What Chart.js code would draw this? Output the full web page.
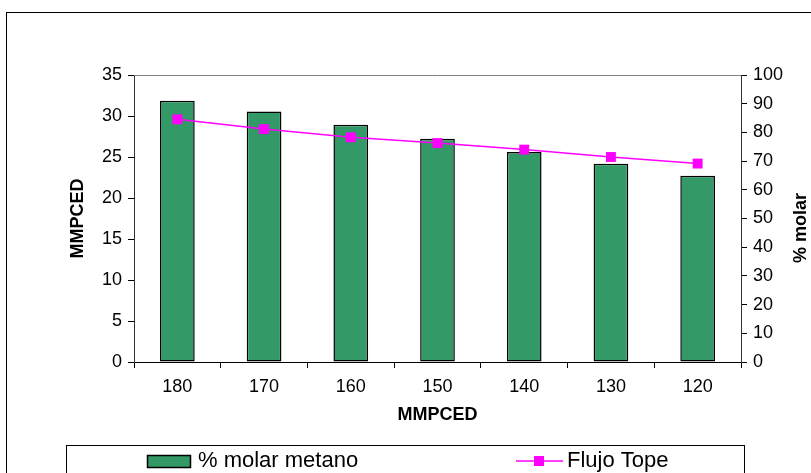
<!DOCTYPE html>
<html lang="es">
<head>
  <meta charset="UTF-8">
  <title>Flujo Tope y % molar metano</title>
  <style>
    body { margin: 0; background: #fff; }
    canvas { display: block; }
  </style>
  <script src="https://cdn.jsdelivr.net/npm/chart.js"></script>
</head>
<body>
  <canvas id="grafico" width="811" height="473"></canvas>

  <script>
    // datos
    var categorias = ['180', '170', '160', '150', '140', '130', '120'];
    var molarMetano = [91.0, 87.3, 82.7, 77.8, 73.2, 69.1, 64.9];   // eje derecha (% molar)
    var flujoTope = [29.6, 28.4, 27.4, 26.7, 25.9, 25.0, 24.2];     // eje izquierda (MMPCED)
    var ejeIzq = { min: 0, max: 35, paso: 5 };
    var ejeDer = { min: 0, max: 100, paso: 10 };
    var tituloX = 'MMPCED';
    var tituloIzq = 'MMPCED';
    var tituloDer = '% molar';

    var fuente = '"Liberation Sans", Arial, sans-serif';
    var verde = '#339966';
    var magenta = '#FF00FF';

    // marco, titulos de ejes y leyenda
    var extras = {
      id: 'extras',
      afterDraw: function (chart) {
        var ctx = chart.ctx;
        var area = chart.chartArea;
        ctx.save();

        // marco exterior
        ctx.strokeStyle = '#000';
        ctx.lineWidth = 1;
        ctx.strokeRect(6.5, 12.5, 820, 480);

        // borde superior del area de trazado
        ctx.strokeStyle = '#808080';
        ctx.beginPath();
        ctx.moveTo(area.left, area.top + 0.5);
        ctx.lineTo(area.right, area.top + 0.5);
        ctx.stroke();

        // titulos de ejes
        ctx.fillStyle = '#000';
        ctx.font = 'bold 18px ' + fuente;
        ctx.textAlign = 'center';
        ctx.textBaseline = 'middle';
        ctx.fillText(tituloX, (area.left + area.right) / 2, 415);

        ctx.save();
        ctx.translate(78, (area.top + area.bottom) / 2);
        ctx.rotate(-Math.PI / 2);
        ctx.fillText(tituloIzq, 0, 0);
        ctx.restore();

        ctx.save();
        ctx.translate(801, 228);
        ctx.rotate(-Math.PI / 2);
        ctx.fillText(tituloDer, 0, 0);
        ctx.restore();

        // leyenda
        ctx.strokeStyle = '#000';
        ctx.strokeRect(66.5, 445.5, 678, 60);
        var dsBarra = chart.data.datasets[1];
        var dsLinea = chart.data.datasets[0];
        var yl = 461;

        ctx.fillStyle = dsBarra.backgroundColor;
        ctx.fillRect(147, 455, 44, 13);
        ctx.lineWidth = 1.5;
        ctx.strokeRect(147.5, 455.5, 43, 12);

        ctx.strokeStyle = dsLinea.borderColor;
        ctx.beginPath();
        ctx.moveTo(516, yl);
        ctx.lineTo(563, yl);
        ctx.stroke();
        ctx.fillStyle = dsLinea.borderColor;
        ctx.fillRect(534, yl - 5, 10, 10);

        ctx.fillStyle = '#000';
        ctx.font = '22px ' + fuente;
        ctx.textAlign = 'left';
        ctx.fillText(dsBarra.label, 198, yl);
        ctx.fillText(dsLinea.label, 567, yl);

        ctx.restore();
      }
    };

    var ctx = document.getElementById('grafico').getContext('2d');
    var grafico = new Chart(ctx, {
      data: {
        labels: categorias,
        datasets: [{
          type: 'line',
          label: 'Flujo Tope',
          data: flujoTope,
          yAxisID: 'y',
          borderColor: magenta,
          borderWidth: 1.5,
          pointStyle: 'rect',
          pointRadius: 7,
          pointBackgroundColor: magenta,
          pointBorderColor: magenta,
          pointBorderWidth: 0,
          tension: 0,
          order: 0
        }, {
          type: 'bar',
          label: '% molar metano',
          data: molarMetano,
          yAxisID: 'y1',
          backgroundColor: verde,
          borderColor: '#000',
          borderWidth: 1.5,
          borderSkipped: false,
          barPercentage: 0.4,
          categoryPercentage: 1,
          order: 1
        }]
      },
      options: {
        responsive: false,
        animation: false,
        layout: { padding: { top: 75, left: 0, right: 0, bottom: 0 } },
        plugins: {
          legend: { display: false },
          tooltip: { enabled: false }
        },
        scales: {
          x: {
            offset: true,
            grid: { offset: true, drawOnChartArea: false, tickLength: 6, tickColor: '#000' },
            border: { color: '#000', width: 1 },
            ticks: { color: '#000', font: { family: fuente, size: 18 }, padding: 8, maxRotation: 0 },
            afterFit: function (s) { s.height = 111; }
          },
          y: {
            position: 'left',
            min: ejeIzq.min,
            max: ejeIzq.max,
            ticks: { stepSize: ejeIzq.paso, color: '#000', font: { family: fuente, size: 18 }, padding: 6 },
            grid: { drawOnChartArea: false, tickLength: 6, tickColor: '#000' },
            border: { color: '#333', width: 1 },
            afterFit: function (s) { s.width = 134; }
          },
          y1: {
            position: 'right',
            min: ejeDer.min,
            max: ejeDer.max,
            ticks: { stepSize: ejeDer.paso, color: '#000', font: { family: fuente, size: 18 }, padding: 6 },
            grid: { drawOnChartArea: false, tickLength: 6, tickColor: '#000' },
            border: { color: '#333', width: 1 },
            afterFit: function (s) { s.width = 70; }
          }
        }
      },
      plugins: [extras]
    });
  </script>
</body>
</html>
